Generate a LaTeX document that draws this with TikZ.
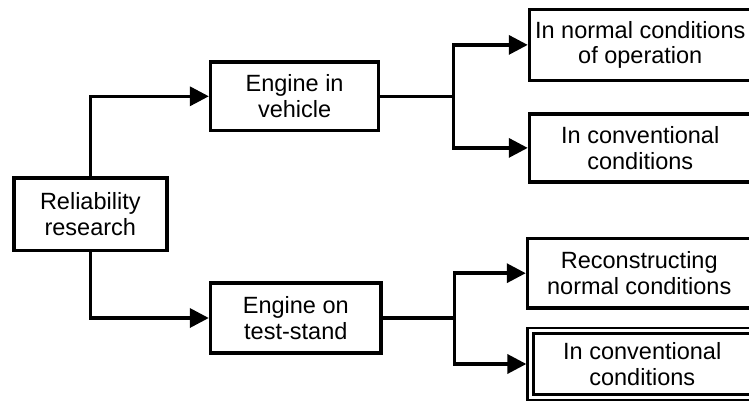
\documentclass[tikz,border=0pt]{standalone}
\usepackage{fontspec}
\setmainfont{Liberation Sans}
\usetikzlibrary{arrows.meta}
\begin{document}
\begin{tikzpicture}[x=1pt,y=-1pt,
  box/.style={draw, line width=3.5pt, rectangle, inner sep=0pt, align=center,
    font=\fontsize{23.5}{25.5}\selectfont},
  tip/.tip={Triangle[length=19pt,width=19pt]},
  link/.style={line width=3.5pt},
  arr/.style={link, -tip}]

% canvas
\fill[white] (0,0) rectangle (749,401);
\useasboundingbox (0,0) rectangle (749,401);

% root
\node[box, minimum width=153pt, minimum height=72.5pt] (rel) at (90.3,214) {Reliability\\research};

% second level
\node[box, minimum width=168pt, minimum height=68.5pt] (veh) at (294.6,96.3) {Engine in\\vehicle};
\node[box, minimum width=170.5pt, minimum height=70pt] (stand) at (295.8,318) {Engine on\\test-stand};

% third level (boxes run past the right edge)
\node[box, minimum width=221.5pt, minimum height=70.8pt] (norm) at (640.25,44.9) {In normal conditions\\of operation};
\node[box, minimum width=221.5pt, minimum height=68.2pt] (conv) at (640.25,147.9) {In conventional\\conditions};
\node[box, minimum width=223.5pt, minimum height=69.7pt] (recon) at (639.25,273.2) {Reconstructing\\normal conditions};
\node[box, double, line width=2.5pt, double distance=3.3pt, outer sep=4.15pt,
  minimum width=223.5pt, minimum height=66.4pt] (conv2) at (642.25,364) {In conventional\\conditions};

% branch points
\coordinate (vsplit) at (453.7,96.3);
\coordinate (ssplit) at (454.7,318);

% connectors
\draw[arr] (rel.north) |- (veh.west);
\draw[arr] (rel.south) |- (stand.west);

\draw[link] (veh.east) -- (vsplit);
\draw[link, tip-tip] (norm.west) -| (vsplit) |- (conv.west);

\draw[link] (stand.east) -- (ssplit);
\draw[link, tip-tip] (recon.west) -| (ssplit) |- (conv2.west);
\end{tikzpicture}
\end{document}
